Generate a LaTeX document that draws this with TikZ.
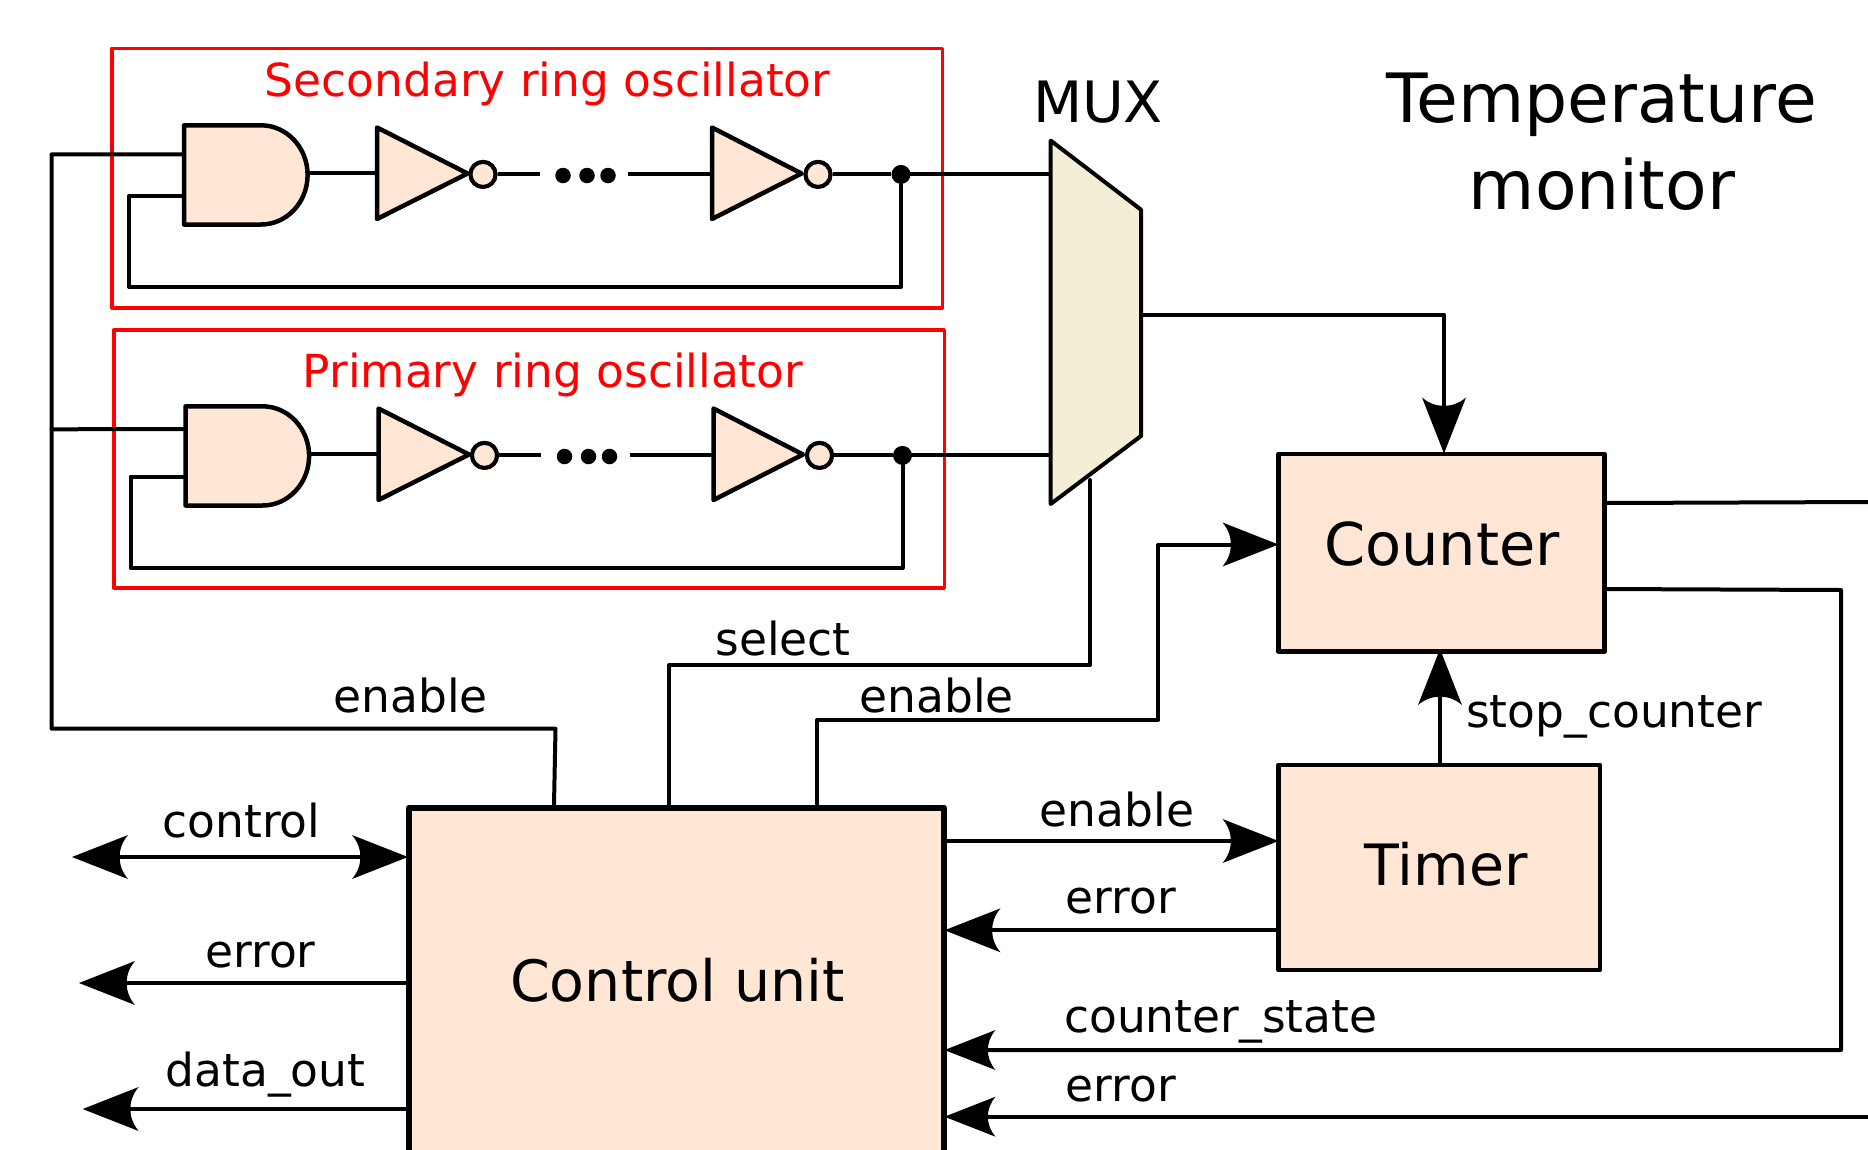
\documentclass[tikz,border=0pt]{standalone}
\usepackage{fontspec}
\setmainfont{DejaVu Sans}
\usetikzlibrary{arrows.meta}
\pgfdeclarearrow{
  name=InkHead,
  defaults={length=56pt,width=44pt},
  parameters={\the\pgfarrowlength,\the\pgfarrowwidth},
  setup code={
    \pgfarrowssettipend{0pt}
    \pgfarrowssetlineend{-.7\pgfarrowlength}
    \pgfarrowssetbackend{-\pgfarrowlength}
    \pgfarrowssetvisualbackend{-.8\pgfarrowlength}
    \pgfarrowshullpoint{0pt}{0pt}
    \pgfarrowshullpoint{-\pgfarrowlength}{.5\pgfarrowwidth}
    \pgfarrowshullpoint{-\pgfarrowlength}{-.5\pgfarrowwidth}
    \pgfarrowssavethe\pgfarrowlength
    \pgfarrowssavethe\pgfarrowwidth
  },
  drawing code={
    \pgfpathmoveto{\pgfqpoint{0pt}{0pt}}
    \pgfpathlineto{\pgfqpoint{-\pgfarrowlength}{.5\pgfarrowwidth}}
    \pgfpathcurveto{\pgfqpoint{-.8\pgfarrowlength}{.2\pgfarrowwidth}}
      {\pgfqpoint{-.8\pgfarrowlength}{-.2\pgfarrowwidth}}
      {\pgfqpoint{-\pgfarrowlength}{-.5\pgfarrowwidth}}
    \pgfpathclose
    \pgfusepathqfill
  }
}
\definecolor{peach}{HTML}{FFE6D5}
\definecolor{muxfill}{HTML}{F4EED7}
\tikzset{
  wire/.style={draw=black,line width=4pt,line join=round,line cap=round},
  head/.style={-{InkHead}},
  headsmall/.style={-{InkHead[length=51pt,width=40pt]}},
  gate/.style={draw=black,fill=peach,line width=4.5pt,line join=round},
  block/.style={draw=black,fill=peach,line width=4.5pt,line join=round,inner sep=0pt,rectangle},
  redbox/.style={draw=red,line width=3.5pt,line join=round,rectangle,inner sep=0pt},
  bubble/.style={circle,draw=black,fill=peach,line width=4pt,minimum size=25pt,inner sep=0pt},
  jdot/.style={circle,fill=black,minimum size=19pt,inner sep=0pt},
  sdot/.style={circle,fill=black,minimum size=15.5pt,inner sep=0pt},
  lab/.style={anchor=base,inner sep=0pt,font=\fontsize{45.5}{50}\selectfont},
  redlab/.style={anchor=base,inner sep=0pt,text=red,font=\fontsize{45.5}{50}\selectfont},
  biglab/.style={anchor=base,inner sep=0pt,font=\fontsize{57}{60}\selectfont},
  titlelab/.style={anchor=base,inner sep=0pt,font=\fontsize{68}{70}\selectfont},
}
\newcommand{\ringosc}[2]{%
  \coordinate (#1in) at (184,#2);
  \coordinate (#1fbin) at (184,195.5);
  \coordinate (#1fbl) at (129,195.5);
  \coordinate (#1fbb) at (129,287);
  \coordinate (#1fbr) at (901,287);
  \coordinate (#1andout) at (307.6,173);
  \coordinate (#1inv1in) at (376,173);
  \coordinate (#1lineA) at (539.6,174.4);
  \coordinate (#1lineB) at (628,174.4);
  \coordinate (#1inv2in) at (712,174.4);
  \coordinate (#1muxin) at (1050,174.4);
  \node[jdot] (#1dot) at (901,174.4) {};
  \node[bubble] (#1bub1) at (483,174.4) {};
  \node[bubble] (#1bub2) at (818,174.4) {};
  \node[sdot] (#1d1) at (563,175.5) {};
  \node[sdot] (#1d2) at (587,175.5) {};
  \node[sdot] (#1d3) at (608,175.5) {};
  \draw[wire] (#1dot) -- (#1muxin);
  \draw[wire] (#1dot.center) -- (#1fbr) -- (#1fbb) -- (#1fbl) -- (#1fbin);
  \draw[wire] (#1andout) -- (#1inv1in);
  \draw[wire,line cap=butt] (#1bub1) -- (#1lineA);
  \draw[wire,line cap=butt] (#1lineB) -- (#1inv2in);
  \draw[wire,line cap=butt] (#1bub2) -- (#1dot);
  \draw[gate] (184,125.3) -- (261,125.3)
     .. controls (286.7,125.3) and (307.6,147.5) .. (307.6,174.9)
     .. controls (307.6,202.4) and (286.7,224.5) .. (261,224.5)
     -- (184,224.5) -- cycle;
  \draw[gate] (377,127.5) -- (467.6,173.5) -- (377,219) -- cycle;
  \draw[gate] (712,127.5) -- (801.5,173.5) -- (712,219) -- cycle;
  \node[bubble] at (#1bub1) {};
  \node[bubble] at (#1bub2) {};
}
\begin{document}
\begin{tikzpicture}[x=1pt,y=-1pt]
\clip (0,0) rectangle (1868,1149);
\fill[white] (0,0) rectangle (1868,1149);

% oscillator frames
\node[redbox,minimum width=830.5pt,minimum height=259.5pt] (secbox) at (527.25,178) {};
\node[redbox,minimum width=830.5pt,minimum height=258pt] (pribox) at (529,459) {};
\node[redlab] (sectext) at (547.5,96.5) {Secondary ring oscillator};
\node[redlab] (pritext) at (553,387.5) {Primary ring oscillator};

% ring oscillators
\ringosc{s}{154.4}
\begin{scope}[shift={(1.5,281)}]
\ringosc{p}{148}
\end{scope}

% blocks
\node[block,minimum width=326pt,minimum height=197.5pt] (counter) at (1441.5,552.6) {};
\node[block,minimum width=321.5pt,minimum height=205pt] (timer) at (1439.2,867.6) {};
\node[block,line width=6pt,minimum width=535pt,minimum height=400pt] (cu) at (676.5,1007.5) {};
\node[biglab,font=\fontsize{59}{60}\selectfont] (countertext) at (1442,565) {Counter};
\node[biglab] (timertext) at (1446,885) {Timer};
\node[biglab] (cutext) at (677.5,1001) {Control unit};

% coordinates on the blocks
\coordinate (busS) at (51.6,154.4);
\coordinate (busP) at (51.6,429.3);
\coordinate (busB) at (51.6,728.6);
\coordinate (enA) at (555.5,728.6);
\coordinate (enB) at (554,805);
\coordinate (selA) at (669,805);
\coordinate (selB) at (669,665);
\coordinate (selC) at (1090,665);
\coordinate (selD) at (1090,480);
\coordinate (en2A) at (817,805);
\coordinate (en2B) at (817,720);
\coordinate (en2C) at (1158.4,720);
\coordinate (en2D) at (1158.4,544.5);
\coordinate (cntL) at (1278.5,544.5);
\coordinate (muxO) at (1141,314.5);
\coordinate (muxC) at (1444,314.5);
\coordinate (cntT) at (1444,453.5);
\coordinate (cntR1) at (1605,503);
\coordinate (edge1) at (1868,502);
\coordinate (cntR2) at (1605,589);
\coordinate (rtA) at (1841,590);
\coordinate (rtB) at (1841,1050);
\coordinate (cuS) at (944.5,1050);
\coordinate (edge2) at (1868,1116.7);
\coordinate (cuE) at (944.5,1116.7);
\coordinate (cuT1) at (946,841);
\coordinate (tmL1) at (1278.5,841);
\coordinate (tmL2) at (1278,930.3);
\coordinate (cuT2) at (944.5,930.3);
\coordinate (tmT) at (1440,764.5);
\coordinate (cntB) at (1440,649);
\coordinate (ctlL) at (72,857);
\coordinate (ctlR) at (408,857);
\coordinate (errL) at (79,983);
\coordinate (errR) at (408,983);
\coordinate (datL) at (82.7,1109);
\coordinate (datR) at (408,1109);

% connectors
\draw[wire] (sin) -- (busS) -- (busB) -- (enA) -- (enB);
\draw[wire] (pin) -- (busP);
\draw[wire] (selA) -- (selB) -- (selC) -- (selD);
\draw[wire,head] (en2A) -- (en2B) -- (en2C) -- (en2D) -- (cntL);
\draw[wire,head] (muxO) -- (muxC) -- (cntT);
\draw[wire] (cntR1) -- (edge1);
\draw[wire,headsmall] (cntR2) -- (rtA) -- (rtB) -- (cuS);
\draw[wire,headsmall] (edge2) -- (cuE);
\draw[wire,head] (cuT1) -- (tmL1);
\draw[wire,head] (tmL2) -- (cuT2);
\draw[wire,head] (tmT) -- (cntB);
\draw[wire,{InkHead}-{InkHead}] (ctlL) -- (ctlR);
\draw[wire,head] (errR) -- (errL);
\draw[wire,head] (datR) -- (datL);

% multiplexer
\draw[draw=black,fill=muxfill,line width=4pt,line join=round]
  (1050.7,140.6) coordinate (muxA) -- (1141,209.7) coordinate (muxB)
  -- (1141,436) coordinate (muxD) -- (1050.7,504) coordinate (muxE) -- cycle;

% labels
\node[biglab] (muxtext) at (1098,122.7) {MUX};
\node[titlelab] (title1) at (1601.5,122.5) {Temperature};
\node[titlelab] (title2) at (1602,209) {monitor};
\node[lab] (lenable) at (410.5,712.8) {enable};
\node[lab] (lselect) at (783,655.4) {select};
\node[lab] (lenable2) at (936.5,712.8) {enable};
\node[lab,anchor=base west] (lstop) at (1466,727) {stop\_counter};
\node[lab] (lenable3) at (1117,826.7) {enable};
\node[lab] (lerror1) at (1121,913.6) {error};
\node[lab,anchor=base west] (lstate) at (1064,1032) {counter\_state};
\node[lab] (lerror2) at (1121,1101) {error};
\node[lab] (lcontrol) at (241.5,837.6) {control};
\node[lab] (lerror3) at (260.5,967.5) {error};
\node[lab] (ldata) at (265.5,1086.6) {data\_out};
\end{tikzpicture}
\end{document}
